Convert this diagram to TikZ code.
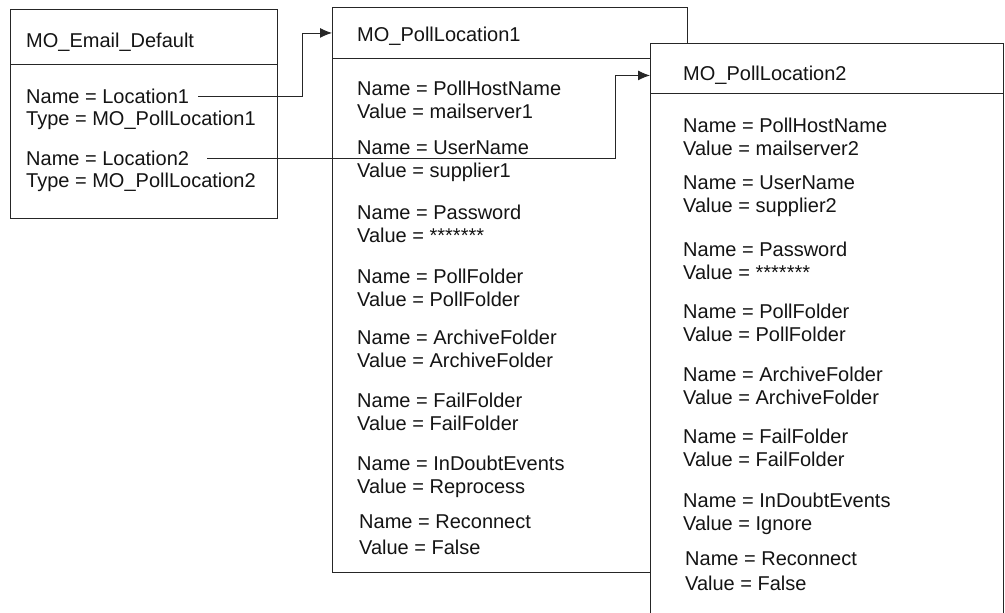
\documentclass[tikz,border=0pt]{standalone}
\usepackage{fontspec}
\setmainfont{Liberation Sans}
\usetikzlibrary{arrows.meta}

\begin{document}
\begin{tikzpicture}[x=1pt,y=-1pt,
	every node/.style={inner sep=0pt},
	box/.style={draw=black!85, line width=0.9pt, fill=white, anchor=north west},
	txt/.style={anchor=north west, align=left, text=black!92, font=\fontsize{20}{22.6}\selectfont},
	link/.style={draw=black!85, line width=0.9pt, -{Latex[length=12pt,width=10pt]}}]
	\useasboundingbox (0,0) rectangle (1005,613);
	% MO_Email_Default
	\draw (10,9) node [box, minimum width=267pt, minimum height=55pt] (emhead) {};
	\draw (10,64) node [box, minimum width=267pt, minimum height=154pt] (embody) {};
	\draw (26,33) node [txt] (emtitle) {MO\_Email\_Default};
	\draw (26,89) node [txt] (loc1name) {Name = Location1};
	\draw (26,111) node [txt] (loc1type) {Type = MO\_PollLocation1};
	\draw (26,151) node [txt] (loc2name) {Name = Location2};
	\draw (26,173) node [txt] (loc2type) {Type = MO\_PollLocation2};
	% MO_PollLocation1
	\draw (332,7) node [box, minimum width=355pt, minimum height=51pt] (pl1head) {};
	\draw (332,58) node [box, minimum width=355pt, minimum height=514pt] (pl1body) {};
	\draw (357,27) node [txt] (pl1title) {MO\_PollLocation1};
	\draw (357,81) node [txt] (pl1a) {Name = PollHostName\\Value = mailserver1};
	\draw (357,141) node [txt] (pl1b) {Name = UserName\\Value = supplier1};
	\draw (357,205) node [txt] (pl1c) {Name = Password\\Value = *******};
	\draw (357,269) node [txt] (pl1d) {Name = PollFolder\\Value = PollFolder};
	\draw (357,330) node [txt] (pl1e) {Name = ArchiveFolder\\Value = ArchiveFolder};
	\draw (357,393) node [txt] (pl1f) {Name = FailFolder\\Value = FailFolder};
	\draw (357,456) node [txt] (pl1g) {Name = InDoubtEvents\\Value = Reprocess};
	\draw (359,515) node [txt] (pl1h) {Name = Reconnect\\[3pt]Value = False};
	% connectors
	\path[link] ([xshift=9pt]loc1name.east) -| ([xshift=-30pt]pl1head.west) -- (pl1head.west);
	% MO_PollLocation2
	\draw (650,43) node [box, minimum width=353pt, minimum height=580pt] (pl2body) {};
	\draw (650,43) node [box, minimum width=353pt, minimum height=50pt] (pl2head) {};
	\coordinate (pl2in) at ([yshift=-7pt]pl2head.west);
	\path[link] ([xshift=18pt]loc2name.east) -| ([xshift=-35pt]pl2in) -- (pl2in);
	\draw (683,66) node [txt] (pl2title) {MO\_PollLocation2};
	\draw (683,118) node [txt] (pl2a) {Name = PollHostName\\Value = mailserver2};
	\draw (683,176) node [txt] (pl2b) {Name = UserName\\Value = supplier2};
	\draw (683,242) node [txt] (pl2c) {Name = Password\\Value = *******};
	\draw (683,304) node [txt] (pl2d) {Name = PollFolder\\Value = PollFolder};
	\draw (683,367) node [txt] (pl2e) {Name = ArchiveFolder\\Value = ArchiveFolder};
	\draw (683,429) node [txt] (pl2f) {Name = FailFolder\\Value = FailFolder};
	\draw (683,493) node [txt] (pl2g) {Name = InDoubtEvents\\Value = Ignore};
	\draw (685,552) node [txt] (pl2h) {Name = Reconnect\\[2pt]Value = False};
\end{tikzpicture}
\end{document}
